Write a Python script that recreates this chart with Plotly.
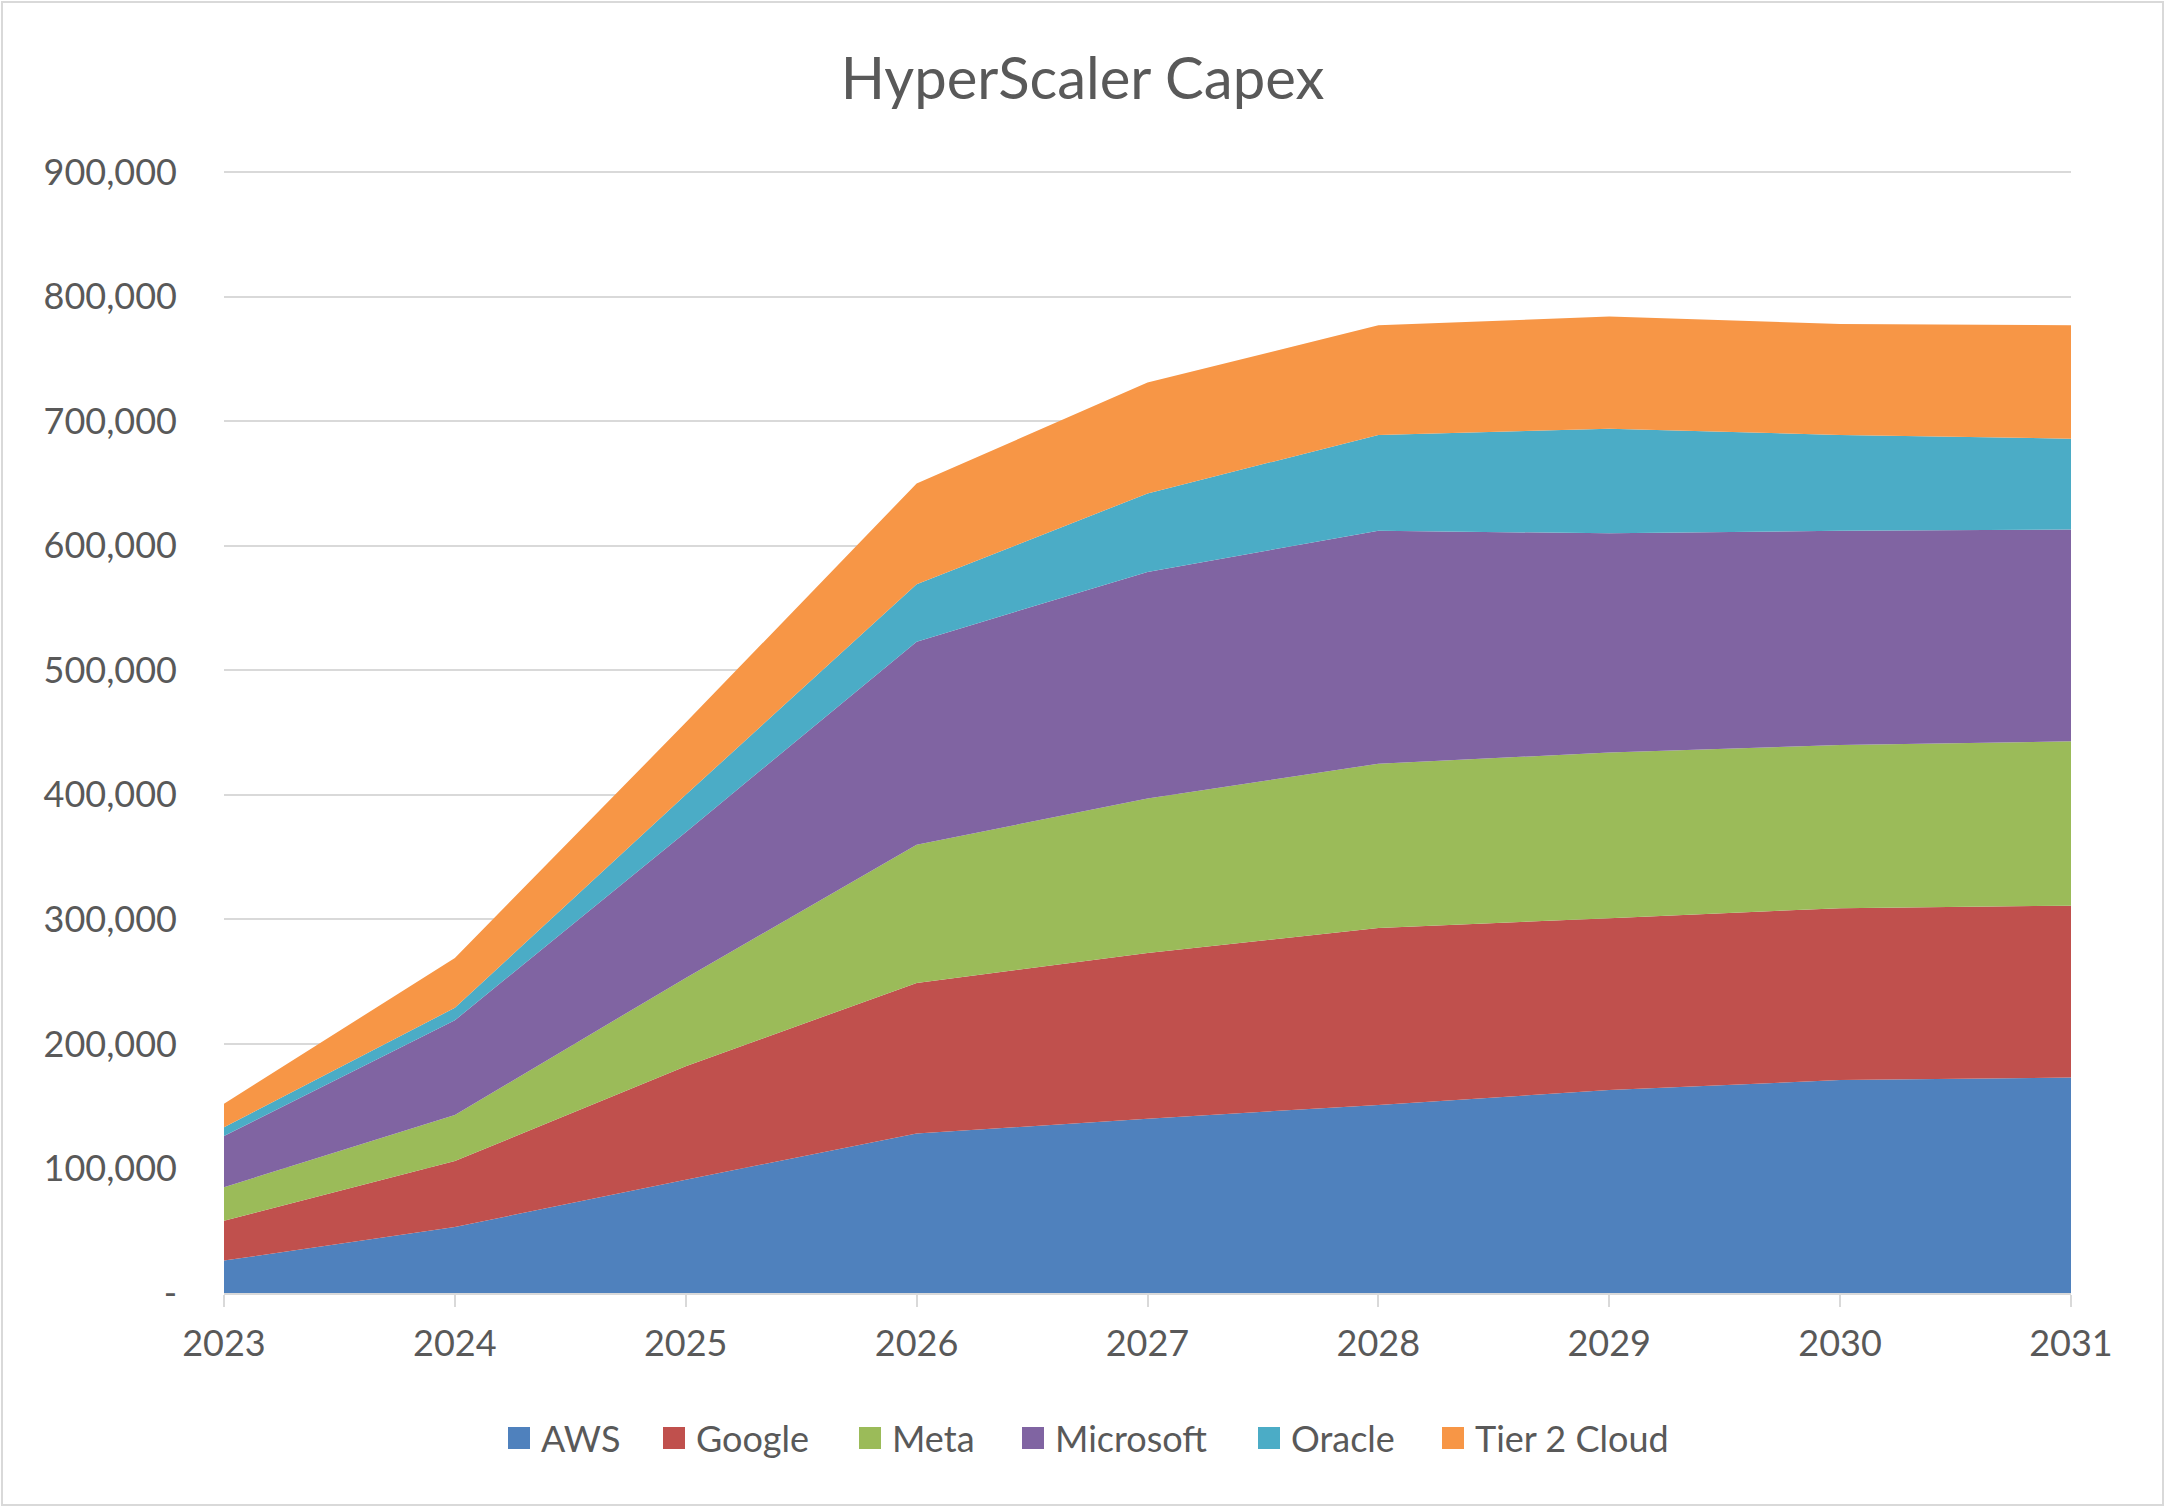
import plotly.graph_objects as go

years = [2023, 2024, 2025, 2026, 2027, 2028, 2029, 2030, 2031]
series_names = ["AWS", "Google", "Meta", "Microsoft", "Oracle", "Tier 2 Cloud"]
aws = [26000, 53000, 91000, 128000, 140000, 151000, 163000, 171000, 173000]
google = [32000, 53000, 91000, 121000, 133000, 142000, 138000, 138000, 138000]
meta = [27000, 37000, 71000, 111000, 124000, 132000, 133000, 131000, 132000]
microsoft = [41000, 76000, 117000, 163000, 182000, 187000, 176000, 172000, 170000]
oracle = [7000, 10000, 30000, 46000, 63000, 77000, 84000, 77000, 73000]
tier2 = [19000, 40000, 58000, 81000, 89000, 88000, 90000, 89000, 91000]
colors = ["#4F81BD", "#C0504D", "#9BBB59", "#8064A2", "#4BACC6", "#F79646"]
y_ticks = [0, 100000, 200000, 300000, 400000, 500000, 600000, 700000, 800000, 900000]
y_ticktext = ["-"] + [f"{v:,}" for v in y_ticks[1:]]

values = [aws, google, meta, microsoft, oracle, tier2]
FONT = "Lato"
TXT = "#595959"

W, H = 2165, 1507
L, R, T, B = 224, 94, 171, 214
pw, ph = W - L - R, H - T - B


def px_x(x):
    return (x - L) / pw


def px_y(y):
    return (H - B - y) / ph


fig = go.Figure()
for name, vals, col in zip(series_names, values, colors):
    fig.add_trace(go.Scatter(
        x=years, y=vals, name=name, stackgroup="one", mode="lines",
        line=dict(width=0, color=col), fillcolor=col,
        showlegend=False, hoverinfo="x+y+name",
    ))

fig.update_layout(
    width=W, height=H,
    margin=dict(l=L, r=R, t=T, b=B),
    paper_bgcolor="white", plot_bgcolor="white",
    font=dict(family=FONT, color=TXT, size=36),
    title=dict(text="HyperScaler Capex", x=0.5, xref="container", xanchor="center",
               y=1 - 79 / H, yref="container", yanchor="middle",
               font=dict(family=FONT, size=58, color=TXT)),
    xaxis=dict(range=[2023, 2031], tickvals=years, ticktext=[str(y) for y in years],
               showgrid=False, zeroline=False, showline=True, linecolor="#D9D9D9",
               linewidth=2, ticks="outside", ticklen=12, tickcolor="#D9D9D9",
               tickwidth=2, ticklabelstandoff=6, tickfont=dict(size=36, color=TXT)),
    yaxis=dict(range=[0, 900900], tickvals=y_ticks, ticktext=y_ticktext,
               showgrid=True, gridcolor="#D9D9D9", gridwidth=2, zeroline=False,
               showline=False, ticks="", ticklabelstandoff=46,
               tickfont=dict(size=36, color=TXT)),
    showlegend=False,
)

# legend (Excel style: square swatch + label)
leg_sq_left = [508, 663, 859, 1022, 1258, 1442]
leg_y = 1438
sq = 22
for name, col, x0 in zip(series_names, colors, leg_sq_left):
    fig.add_shape(type="rect", xref="paper", yref="paper",
                  x0=px_x(x0), x1=px_x(x0 + sq),
                  y0=px_y(leg_y + sq / 2), y1=px_y(leg_y - sq / 2),
                  fillcolor=col, line=dict(width=0))
    fig.add_annotation(text=name, xref="paper", yref="paper",
                       x=px_x(x0 + sq + 9), y=px_y(leg_y), xanchor="left",
                       yanchor="middle", showarrow=False,
                       font=dict(family=FONT, size=36, color=TXT))

# chart-area border
fig.add_shape(type="rect", xref="paper", yref="paper",
              x0=px_x(2), x1=px_x(W - 2), y0=px_y(H - 2), y1=px_y(2),
              line=dict(color="#D9D9D9", width=2), layer="below")

fig.write_html("out.html", config={"displayModeBar": False},
               post_script="document.body.style.margin='0';document.body.style.overflow='hidden';")
